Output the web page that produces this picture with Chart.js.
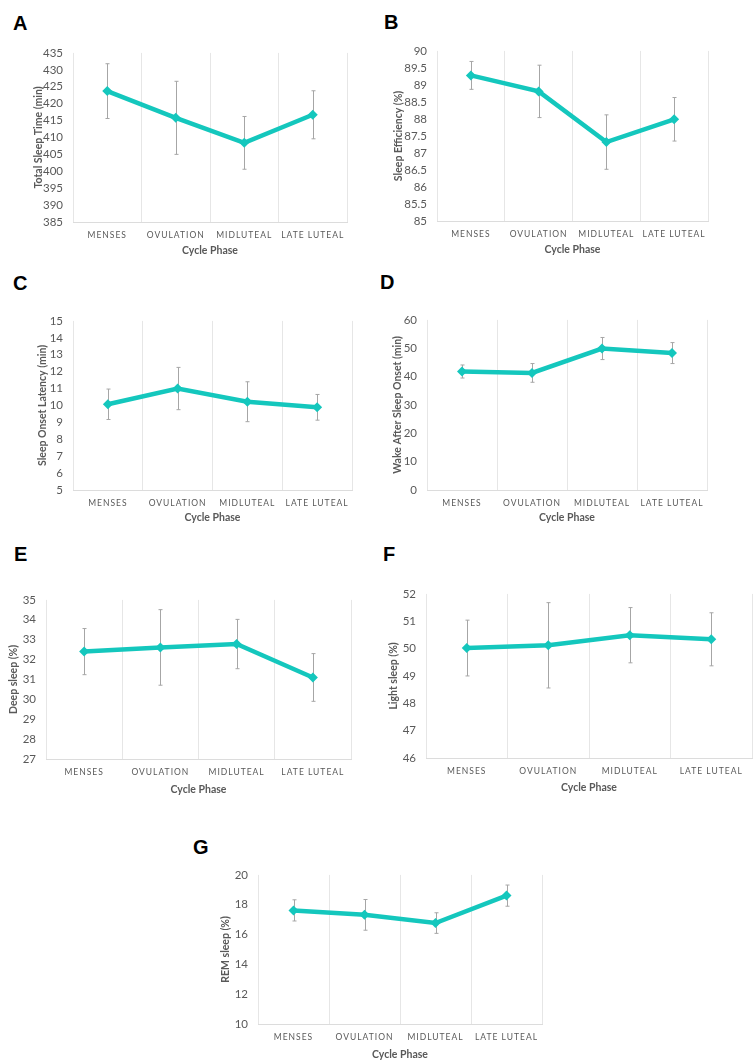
<!DOCTYPE html>
<html>
<head>
  <title>Sleep by Cycle Phase</title>
  <meta charset="utf-8">
  <style>
    body { margin: 0; background: #fff; font-family: Lato, sans-serif; }
    #page { position: relative; width: 754px; height: 1062px; overflow: hidden; }
    .panel { position: absolute; }
    .letter { position: absolute; font: bold 20px/20px "Liberation Sans", Arial, sans-serif; color: #000; }
  </style>
  <script src="https://cdn.jsdelivr.net/npm/chart.js"></script>
</head>
<body>
  <div id="page"></div>
  <script>
    // categories
    const phases = ['MENSES', 'OVULATION', 'MIDLUTEAL', 'LATE LUTEAL'];

    // A - total sleep time
    const tstMean = [423.7, 415.8, 408.4, 416.7];
    const tstErr = [8.1, 10.8, 7.8, 7.1];
    // B - sleep efficiency
    const seMean = [89.28, 88.81, 87.32, 87.99];
    const seErr = [0.41, 0.77, 0.8, 0.64];
    // C - sleep onset latency
    const solMean = [10.07, 11.0, 10.22, 9.89];
    const solErr = [0.9, 1.25, 1.18, 0.76];
    // D - wake after sleep onset
    const wasoMean = [41.8, 41.3, 49.9, 48.3];
    const wasoErr = [2.3, 3.3, 3.9, 3.7];
    // E - deep sleep
    const deepMean = [32.4, 32.61, 32.78, 31.1];
    const deepErr = [1.16, 1.9, 1.24, 1.2];
    // F - light sleep
    const lightMean = [50.02, 50.12, 50.49, 50.34];
    const lightErr = [1.02, 1.56, 1.01, 0.97];
    // G - REM sleep
    const remMean = [17.62, 17.32, 16.77, 18.61];
    const remErr = [0.71, 1.03, 0.69, 0.71];

    const teal = '#14c7bd';
    const grey = '#595959';
    const Wy = 62, Hx = 40, padTop = 12;

    // error bars drawn behind the line, spaced caps for category labels
    const errorBars = {
      id: 'errorBars',
      beforeDatasetsDraw(chart) {
        const ctx = chart.ctx, xs = chart.scales.x, ys = chart.scales.y;
        const ds = chart.data.datasets[0];
        ctx.save();
        ctx.strokeStyle = '#a6a6a6';
        ctx.lineWidth = 1;
        ds.data.forEach((v, i) => {
          const px = Math.round(xs.getPixelForValue(i)) + 0.5;
          const top = ys.getPixelForValue(v + ds.errorBars[i]);
          const bot = ys.getPixelForValue(v - ds.errorBars[i]);
          ctx.beginPath();
          ctx.moveTo(px, top); ctx.lineTo(px, bot);
          ctx.moveTo(px - 2, top); ctx.lineTo(px + 2, top);
          ctx.moveTo(px - 2, bot); ctx.lineTo(px + 2, bot);
          ctx.stroke();
        });
        ctx.restore();
      },
      afterDatasetsDraw(chart) { chart.ctx.letterSpacing = '1px'; },
      afterDraw(chart) { chart.ctx.letterSpacing = '0px'; }
    };

    const panels = [
      {letter: 'A', lx: 13, ly: 13, box: [73, 48, 348, 222], min: 385, max: 435, step: 5,
       title: 'Total Sleep Time (min)', gap: 35, xgap: 29, data: tstMean, err: tstErr},
      {letter: 'B', lx: 384, ly: 12, box: [437, 46, 709, 221], min: 85, max: 90, step: 0.5,
       title: 'Sleep Efficiency (%)', gap: 39, xgap: 28.5, data: seMean, err: seErr},
      {letter: 'C', lx: 13, ly: 273, box: [73, 316, 353, 490], min: 5, max: 15, step: 1,
       title: 'Sleep Onset Latency (min)', gap: 31, xgap: 28.3, data: solMean, err: solErr},
      {letter: 'D', lx: 380, ly: 272, box: [427, 315, 708, 490], min: 0, max: 60, step: 10,
       title: 'Wake After Sleep Onset (min)', gap: 30, xgap: 28.3, data: wasoMean, err: wasoErr},
      {letter: 'E', lx: 14, ly: 544, box: [46, 595, 352, 759], min: 27, max: 35, step: 1,
       title: 'Deep sleep (%)', gap: 33, xgap: 30.7, data: deepMean, err: deepErr},
      {letter: 'F', lx: 383, ly: 544, box: [426, 589, 753, 758], min: 46, max: 52, step: 1,
       title: 'Light sleep (%)', gap: 33, xgap: 30, data: lightMean, err: lightErr},
      {letter: 'G', lx: 193, ly: 837, box: [258, 870, 543, 1024], min: 10, max: 20, step: 2,
       title: 'REM sleep (%)', gap: 33, xgap: 31, data: remMean, err: remErr}
    ];

    const page = document.getElementById('page');

    panels.forEach(p => {
      const [l, t, r, b] = p.box;
      const letter = document.createElement('div');
      letter.className = 'letter';
      letter.style.left = p.lx + 'px';
      letter.style.top = p.ly + 'px';
      letter.textContent = p.letter;
      page.appendChild(letter);

      const w = (r - l) + Wy + 4;
      const h = (b - t) + padTop + Hx;
      const wrap = document.createElement('div');
      wrap.className = 'panel';
      wrap.style.left = (l - Wy) + 'px';
      wrap.style.top = (t - padTop) + 'px';
      const canvas = document.createElement('canvas');
      canvas.width = w; canvas.height = h;
      canvas.style.width = w + 'px'; canvas.style.height = h + 'px';
      wrap.appendChild(canvas);
      page.appendChild(wrap);

      new Chart(canvas, {
        type: 'line',
        data: {
          labels: phases,
          datasets: [{
            data: p.data,
            errorBars: p.err,
            borderColor: teal,
            backgroundColor: teal,
            borderWidth: 4.5,
            tension: 0,
            pointStyle: 'rectRot',
            pointRadius: 5,
            pointBackgroundColor: teal,
            pointBorderWidth: 0,
            clip: false
          }]
        },
        options: {
          responsive: false,
          animation: false,
          devicePixelRatio: 1,
          layout: {padding: {top: padTop, right: 4, left: 0, bottom: 0}},
          plugins: {legend: {display: false}, tooltip: {enabled: false}},
          scales: {
            x: {
              offset: true,
              grid: {offset: true, color: '#e6e6e6', drawTicks: false},
              border: {display: true, color: '#dcdcdc'},
              ticks: {padding: 8, color: grey, font: {family: 'Lato', size: 8.5}, z: 1,
                      maxRotation: 0, autoSkip: false},
              title: {display: true, text: 'Cycle Phase', color: grey,
                      font: {family: 'Lato', size: 10.5, weight: 'bold'},
                      padding: {top: 0, bottom: Hx - 6 - p.xgap}},
              afterFit: s => { s.height = Hx; }
            },
            y: {
              min: p.min, max: p.max,
              grid: {display: false, drawTicks: false},
              border: {display: false},
              ticks: {stepSize: p.step, padding: 10, color: grey, font: {family: 'Lato', size: 11.5},
                      callback: v => String(+v.toFixed(2))},
              title: {display: true, text: p.title, color: grey,
                      font: {family: 'Lato', size: 10.5, weight: 'bold'},
                      padding: {top: Wy - p.gap - 6, bottom: 0}},
              afterFit: s => { s.width = Wy; }
            }
          }
        },
        plugins: [errorBars]
      });
    });
  </script>
</body>
</html>
